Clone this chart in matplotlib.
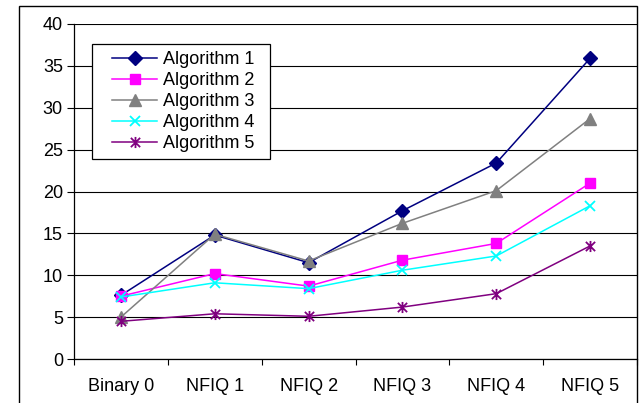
import matplotlib
matplotlib.use("Agg")
import matplotlib.pyplot as plt
from matplotlib.path import Path
from matplotlib.patches import Rectangle
import numpy as np

categories = ["Binary 0", "NFIQ 1", "NFIQ 2", "NFIQ 3", "NFIQ 4", "NFIQ 5"]
alg1 = [7.6, 14.8, 11.5, 17.7, 23.4, 35.9]
alg2 = [7.5, 10.2, 8.7, 11.8, 13.8, 21.0]
alg3 = [5.0, 14.9, 11.7, 16.2, 20.1, 28.7]
alg4 = [7.4, 9.1, 8.4, 10.6, 12.3, 18.3]
alg5 = [4.5, 5.4, 5.1, 6.2, 7.8, 13.5]
series_names = ["Algorithm 1", "Algorithm 2", "Algorithm 3", "Algorithm 4", "Algorithm 5"]
yticks = [0, 5, 10, 15, 20, 25, 30, 35, 40]

plt.rcParams['font.family'] = ['Liberation Sans', 'DejaVu Sans']

fig = plt.figure(figsize=(6.4, 4.03), dpi=100)
W, H = 640, 403
ax = fig.add_axes([74 / W, (H - 359) / H, (637 - 74) / W, (359 - 24) / H])

# outer chart border
fig.patches.append(Rectangle((19 / W, -0.05), (637 - 19) / W, (H - 6) / H + 0.05,
                             transform=fig.transFigure, fill=False,
                             edgecolor='black', linewidth=1.0, zorder=0))

star = Path([(-1, -1), (1, 1), (-1, 1), (1, -1), (0, -1.2), (0, 1.2)],
            [Path.MOVETO, Path.LINETO, Path.MOVETO, Path.LINETO, Path.MOVETO, Path.LINETO])

x = np.arange(len(categories))
styles = [
    dict(color='#000080', marker='D', ms=7),
    dict(color='#FF00FF', marker='s', ms=6.5),
    dict(color='#808080', marker='^', ms=8),
    dict(color='#00FFFF', marker='x', ms=7.5, mew=1.3),
    dict(color='#800080', marker=star, ms=8, mew=1.3),
]
for data, name, st in zip([alg1, alg2, alg3, alg4, alg5], series_names, styles):
    ax.plot(x, data, label=name, lw=1.1, clip_on=False, **st)

ax.set_xlim(-0.5, len(categories) - 0.5)
ax.set_ylim(0, 40)
ax.set_yticks(yticks)
ax.set_yticklabels([str(v) for v in yticks], fontsize=13)
ax.yaxis.grid(True, color='black', lw=0.8)
ax.set_axisbelow(True)

ax.set_xticks(np.arange(-0.5, len(categories), 1.0))
ax.set_xticklabels([])
ax.set_xticks(x, minor=True)
ax.set_xticklabels(categories, minor=True, fontsize=13)
ax.tick_params(axis='x', which='minor', length=0, pad=14)
ax.tick_params(axis='x', which='major', length=4, direction='out', width=0.8)
ax.tick_params(axis='y', length=5, direction='out', width=0.8, pad=3)

for s in ['top', 'right']:
    ax.spines[s].set_visible(False)
ax.spines['left'].set_linewidth(0.9)
ax.spines['bottom'].set_linewidth(0.9)

# legend box (frame drawn separately for asymmetric padding)
fig.patches.append(Rectangle((92 / W, 1 - 159 / H), (270 - 92) / W, (159 - 44) / H,
                             transform=fig.transFigure, facecolor='white',
                             edgecolor='black', linewidth=0.9, zorder=5))
leg = fig.legend(*ax.get_legend_handles_labels(), loc='upper left',
                 bbox_to_anchor=(112 / W, 1 - 51 / H), bbox_transform=fig.transFigure,
                 fontsize=13, frameon=False, handlelength=2.5, labelspacing=0.225,
                 borderpad=0, handletextpad=0.33, borderaxespad=0)
leg.set_zorder(6)

fig.savefig("out.png", dpi=100)
